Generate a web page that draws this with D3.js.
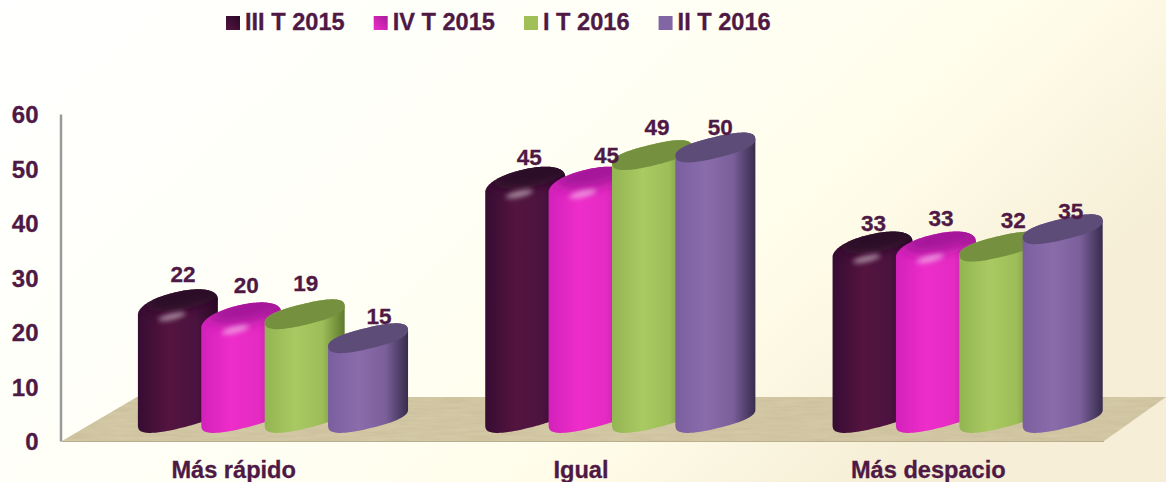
<!DOCTYPE html>
<html><head><meta charset="utf-8">
<script src="https://cdn.jsdelivr.net/npm/d3@7"></script>
<style>html,body{margin:0;padding:0;background:#fff}svg{display:block}text{font-family:"Liberation Sans",Arial,sans-serif;font-weight:700;fill:#4f1945;stroke:#4f1945;stroke-width:0.3px}</style>
</head><body><svg id="c" width="1166" height="482"></svg>
<script>
const categories = ["Más rápido", "Igual", "Más despacio"];
const seriesNames = ["III T 2015", "IV T 2015", "I T 2016", "II T 2016"];
const rapido = [22, 19.6, 19.4, 15];
const igual = [44.5, 44.5, 48.6, 50];
const despacio = [32.6, 32.6, 31.8, 35];
const tickValues = [0, 10, 20, 30, 40, 50, 60];
const tables = [rapido, igual, despacio];

// styling and hand-placement of the value labels
const palette = [
  {stops:["#360c33","#54143f","#4c1340","#2a0827"], top:"#2a0827", dome:true},
  {stops:["#d321bb","#ee2dca","#e42bc2","#a81d98"], top:"#a5189a", dome:true},
  {stops:["#93b552","#a9c962","#9dbd58","#5f7a2e"], top:"#75903f", dome:false},
  {stops:["#7a5f9e","#8a6cab","#7a5f9a","#372c4c"], top:"#5e4c78", dome:false}
];
const labelDx = [[5,5,1,11],[4,18,5,5],[1,5,14,8]];
const labelDy = [[-5,-7,-10,-1],[1.5,-1,-6.4,1],[2,-3,-5,3]];

const W = 1166, H = 482;
const svg = d3.select("#c");
const defs = svg.append("defs");

const bg = defs.append("linearGradient").attr("id","bg").attr("x1",0).attr("y1",0).attr("x2",1).attr("y2",0.45);
[[0,"#ffffff"],[0.45,"#fffff7"],[0.75,"#fffdea"],[1,"#f6eed6"]].forEach(s=>bg.append("stop").attr("offset",s[0]).attr("stop-color",s[1]));
svg.append("rect").attr("width",W).attr("height",H).attr("fill","url(#bg)");

const fl = defs.append("filter").attr("id","tex").attr("x",0).attr("y",0).attr("width",1).attr("height",1);
fl.append("feTurbulence").attr("type","fractalNoise").attr("baseFrequency","0.03 0.35").attr("numOctaves",3).attr("seed",4).attr("result","n");
fl.append("feColorMatrix").attr("in","n").attr("type","matrix").attr("values","0 0 0 0 0.55  0 0 0 0 0.47  0 0 0 0 0.3  0.9 0 0 0 -0.25").attr("result","t");
fl.append("feComposite").attr("in","t").attr("in2","SourceGraphic").attr("operator","in").attr("result","c");
fl.append("feMerge").selectAll("feMergeNode").data(["SourceGraphic","c"]).join("feMergeNode").attr("in",d=>d);
defs.append("filter").attr("id","b6").attr("x","-50%").attr("y","-100%").attr("width","200%").attr("height","300%").append("feGaussianBlur").attr("stdDeviation",6);
defs.append("filter").attr("id","b2").attr("x","-50%").attr("y","-100%").attr("width","200%").attr("height","300%").append("feGaussianBlur").attr("stdDeviation",2.8);

palette.forEach((p,i)=>{
  const g = defs.append("linearGradient").attr("id","cyl"+i);
  [0,0.38,0.72,1].forEach((o,k)=>g.append("stop").attr("offset",o).attr("stop-color",p.stops[k]));
});

const y = d3.scaleLinear().domain([0,60]).range([441,114]);
const x0 = d3.scaleBand().domain(categories).range([62,1104]);
const x1 = d3.scaleBand().domain(seriesNames).range([0,x0.bandwidth()]).paddingOuter(0.74).paddingInner(0);

// floor
const floor = [[62,441],[1104,441],[1166,397],[137,397]];
svg.append("path").attr("d",d3.line()(floor)+"Z").attr("fill","#d4c9a6").attr("filter","url(#tex)");
svg.append("line").attr("x1",62).attr("x2",1104).attr("y1",441.5).attr("y2",441.5).attr("stroke","#b9ae8e").attr("stroke-width",1);

// axis
const ax = svg.append("g").attr("transform","translate(60.5,0)").call(d3.axisLeft(y).tickValues(tickValues).tickSize(0).tickPadding(22));
ax.select(".domain").attr("stroke","#9a9a9a").attr("stroke-width",2.5);
ax.selectAll("text").attr("font-size",24).attr("dy","0.36em").style("font-family",'"Liberation Sans",Arial,sans-serif').style("font-weight",700);

// squircle-like oblique section of a cylinder, relative to its centre
const depthX = 29, baseLift = 21, baseDrop = 2, hExt = 40;
const phiDeg = -13.5, phi = phiDeg*Math.PI/180;
function makeRing(a,b,n,rot){
  const r = d3.range(0,360,3).map(deg=>{
    const t = deg*Math.PI/180, c = Math.cos(t), s = Math.sin(t);
    const u = a*Math.sign(c)*Math.pow(Math.abs(c),2/n), w = b*Math.sign(s)*Math.pow(Math.abs(s),2/n);
    return [u*Math.cos(rot)-w*Math.sin(rot), u*Math.sin(rot)+w*Math.cos(rot)];
  });
  const k = hExt/d3.max(r,p=>p[0]);
  return r.map(p=>[p[0]*k,p[1]]);
}
function arcs(r){
  const iR = d3.leastIndex(r,(p,q)=>q[0]-p[0]), iL = d3.leastIndex(r,(p,q)=>p[0]-q[0]);
  const walk = (from,to)=>{const o=[];for(let i=from;;i=(i+1)%r.length){o.push(r[i]);if(i===to)break;}return o;};
  return {lower:walk(iR,iL).reverse(), upper:walk(iL,iR).reverse()};
}
const ring = makeRing(41,10.4,2.5,phi);
const domeRing = makeRing(41,15,2.15,phi);
const flat = arcs(ring), dome = arcs(domeRing);
const domeShift = 7;
const line = d3.line();

categories.forEach((cat,ci)=>{
  const g = svg.append("g");
  seriesNames.forEach((s,si)=>{
    const v = tables[ci][si], p = palette[si];
    const cx = x0(cat)+x1(s)+depthX+40;
    const cyB = y(0)-baseLift-baseDrop, cyT = y(v)-baseLift;
    const topArc = p.dome ? dome.upper.map(q=>[cx+q[0],cyT+domeShift+q[1]]) : flat.upper.map(q=>[cx+q[0],cyT+q[1]]);
    const pts = flat.lower.map(q=>[cx+q[0],cyB+q[1]]).concat(topArc);
    const d = line(pts)+"Z";
    const id = `clip${ci}_${si}`;
    defs.append("clipPath").attr("id",id).append("path").attr("d",d);
    const bar = g.append("g");
    bar.append("path").attr("d",d).attr("fill",`url(#cyl${si})`);
    if (p.dome) {
      const c = bar.append("g").attr("clip-path",`url(#${id})`);
      c.append("ellipse").attr("cx",cx+8).attr("cy",cyT-3).attr("rx",41).attr("ry",14)
        .attr("transform",`rotate(${phiDeg} ${cx} ${cyT})`).attr("fill",p.top).attr("filter","url(#b6)");
      c.append("ellipse").attr("cx",cx-6).attr("cy",cyT+15).attr("rx",14).attr("ry",3.2)
        .attr("transform",`rotate(${phiDeg} ${cx} ${cyT+15})`).attr("fill","#fff").attr("opacity",0.5).attr("filter","url(#b2)");
    } else {
      bar.append("path").attr("d",line(ring.map(q=>[cx+q[0],cyT+q[1]]))+"Z").attr("fill",p.top);
    }
  });
  seriesNames.forEach((s,si)=>{
    const v = tables[ci][si];
    const cx = x0(cat)+x1(s)+depthX+40;
    g.append("text").attr("x",cx+labelDx[ci][si]).attr("y",y(v)-baseLift-13.5+labelDy[ci][si])
      .attr("text-anchor","middle").attr("font-size",22.5).text(d3.format(".0f")(v));
  });
  svg.append("text").attr("x",x0(cat)+x0.bandwidth()/2-2).attr("y",477.5)
    .attr("text-anchor","middle").attr("font-size",23.6).text(cat);
});

// legend
let lx = 226;
const legendSw = [["#2a0827","#54143f"],["#a81d98","#ee2dca"],["#a0bf57","#a0bf57"],["#8265a3","#8265a3"]];
seriesNames.forEach((s,i)=>{
  const grad = defs.append("linearGradient").attr("id","lg"+i).attr("x1",0).attr("y1",1).attr("x2",1).attr("y2",0);
  grad.append("stop").attr("offset",0).attr("stop-color",legendSw[i][1]);
  grad.append("stop").attr("offset",1).attr("stop-color",legendSw[i][0]);
  svg.append("rect").attr("x",lx).attr("y",16).attr("width",14).attr("height",14).attr("fill",`url(#lg${i})`);
  const t = svg.append("text").attr("x",lx+19).attr("y",30).attr("font-size",23.6).text(s);
  lx += 19 + t.node().getComputedTextLength() + 29;
});
</script></body></html>
